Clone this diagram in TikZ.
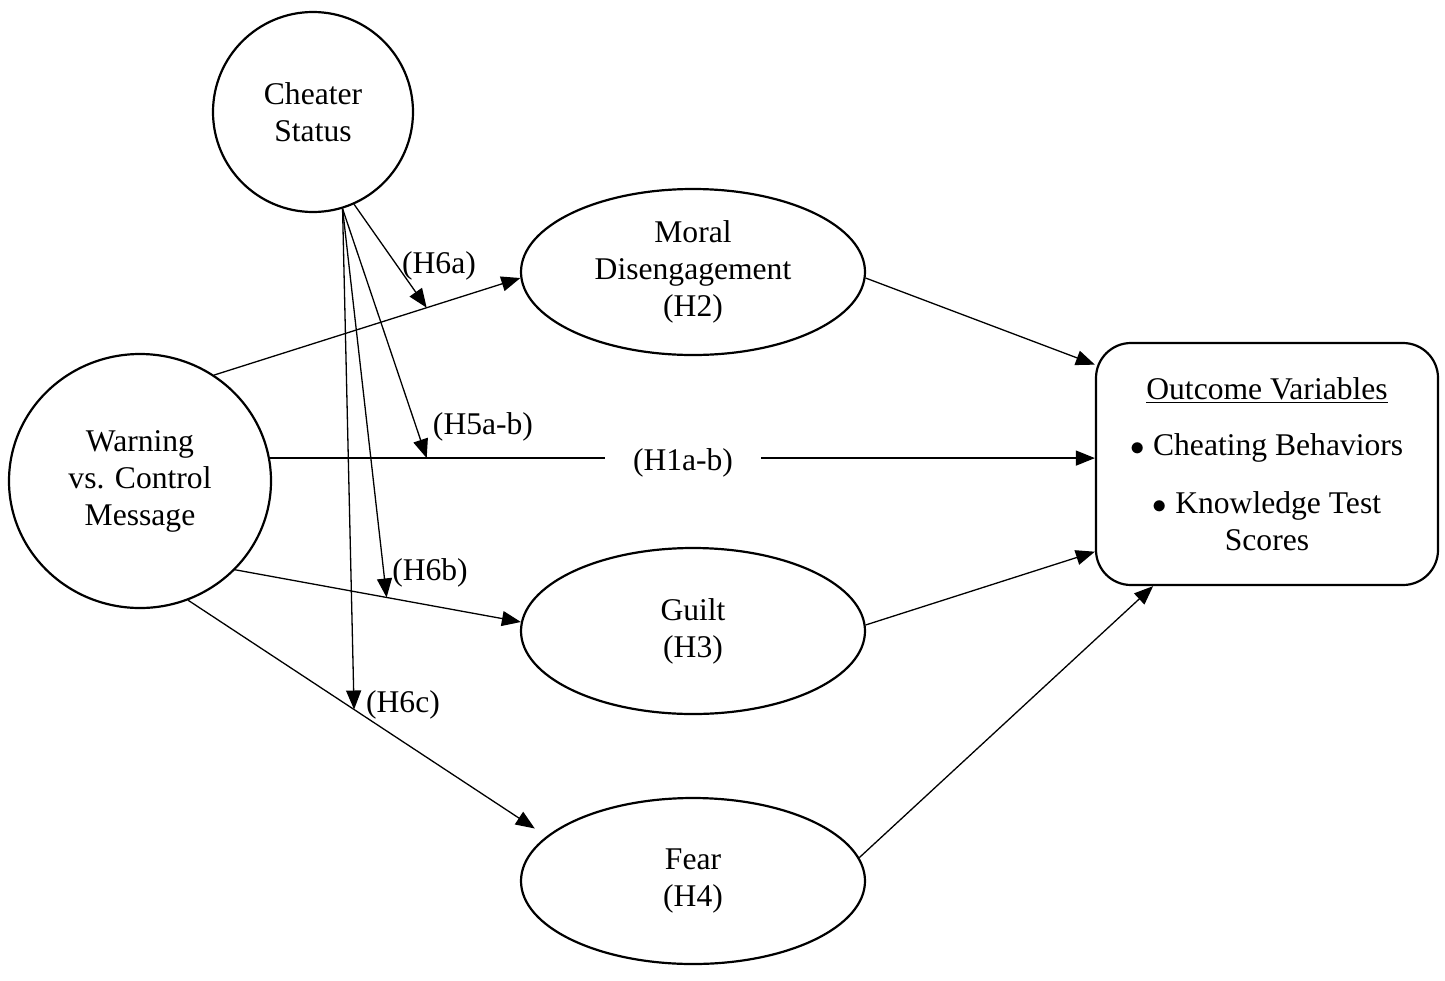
\documentclass[tikz,border=0pt]{standalone}
\usepackage{fontspec}
\setmainfont{Liberation Serif}
\usetikzlibrary{arrows.meta, shapes.geometric}

\begin{document}
\begin{tikzpicture}[
    x=0.5pt, y=-0.5pt,
    every node/.style={font=\fontsize{15.8}{18.5}\selectfont},
    construct/.style={draw, ellipse, line width=1.1pt, inner sep=0pt, align=center},
    mediator/.style={construct, minimum width=172pt, minimum height=83pt},
    arrowstyle/.style={-{Triangle[length=9.5pt, width=7.5pt]}, line width=0.65pt},
    hyp/.style={inner sep=1pt},
]
    \useasboundingbox (0,0) rectangle (1445,980);

    % Predictors
    \node[construct, minimum width=100pt, minimum height=100pt] (cheat) at (313,112) {Cheater\\Status};
    \node[construct, minimum width=131pt, minimum height=127pt] (warn) at (140,481) {Warning\\vs. Control\\Message};

    % Mediators
    \node[mediator] (moral) at (693,272) {Moral\\Disengagement\\(H2)};
    \node[mediator] (guilt) at (693,631) {Guilt\\(H3)};
    \node[mediator] (fear) at (693,881) {Fear\\(H4)};

    % Outcome box
    \node[draw, line width=1.1pt, rounded corners=17.5pt, minimum width=171pt, minimum height=121pt, align=center] (out) at (1267,464)
        {\underline{Outcome Variables}\\[9.5pt] $\bullet$ Cheating Behaviors\\[10.5pt] $\bullet$ Knowledge Test\\ Scores};

    % Paths from the message condition
    \draw[arrowstyle] (warn.55) -- (moral.182) coordinate[pos=0.694] (h6a);
    \draw[arrowstyle] (warn.10) -- (warn.10 -| out.west) coordinate[pos=0.19] (h5);
    \draw[arrowstyle] (warn.-43) -- (guilt.177) coordinate[pos=0.53] (h6b);
    \draw[arrowstyle, shorten >=7pt] (warn.-68) -- (fear.163) coordinate[pos=0.463] (h6c);
    \node[fill=white, inner xsep=14pt, inner ysep=1pt] (lh1) at (683,463) {(H1a-b)};

    % Mediators to outcomes
    \draw[arrowstyle] (moral.-2) -- (out.150);
    \draw[arrowstyle] (guilt.2) -- (out.207);
    \draw[arrowstyle] (fear.8) -- (out.227);

    % Moderation by cheater status
    \draw[arrowstyle] (cheat.-66) -- (h6a);
    \draw[arrowstyle] (cheat.-73) -- (h5);
    \draw[arrowstyle] (cheat.-73) -- (h6b);
    \draw[arrowstyle] (cheat.-73) -- (h6c);
    \node[hyp] (lh6a) at (439,266) {(H6a)};
    \node[hyp] (lh5) at (483,427) {(H5a-b)};
    \node[hyp] (lh6b) at (430,573) {(H6b)};
    \node[hyp] (lh6c) at (403,705) {(H6c)};

\end{tikzpicture}
\end{document}
